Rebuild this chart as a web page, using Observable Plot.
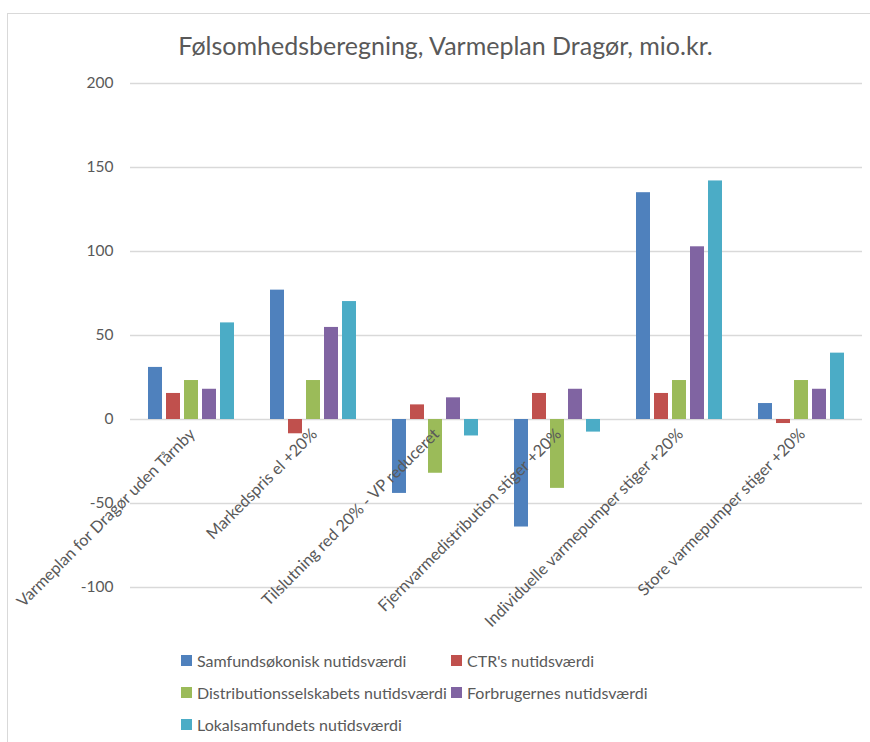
<!DOCTYPE html>
<html><head><meta charset="utf-8">
<script src="https://cdn.jsdelivr.net/npm/d3@7"></script>
<script src="https://cdn.jsdelivr.net/npm/@observablehq/plot@0.6"></script>
<style>
body{margin:0;background:#fff;font-family:Lato, "Open Sans", sans-serif;}
#wrap{position:relative;width:870px;height:742px;overflow:hidden;background:#fff;}
#frame{position:absolute;left:7px;top:13px;width:900px;height:800px;border:1px solid #d9d9d9;box-sizing:border-box;}
#title{position:absolute;top:30px;left:0;width:891px;text-align:center;font-size:25px;color:#595959;white-space:nowrap;}
#chart{position:absolute;left:0;top:0;}
#legend{position:absolute;left:181px;top:651px;display:grid;grid-template-columns:270px auto;grid-auto-rows:32px;font-size:16px;color:#595959;}
.item{display:flex;align-items:flex-start;white-space:nowrap;line-height:20px;}
.sw{width:11px;height:11px;margin:4px 5px 0 0;flex:none;}
</style></head>
<body>
<div id="wrap">
  <div id="frame"></div>
  <div id="chart"></div>
  <div id="title">Følsomhedsberegning, Varmeplan Dragør, mio.kr.</div>
  <div id="legend"></div>
</div>
<script>
const categories = [
  "Varmeplan for Dragør uden Tårnby",
  "Markedspris el +20%",
  "Tilslutning red 20% - VP reduceret",
  "Fjernvarmedistribution stiger +20%",
  "Individuelle varmepumper stiger +20%",
  "Store varmepumper stiger +20%"
];
const series = [
  "Samfundsøkonisk nutidsværdi",
  "CTR's nutidsværdi",
  "Distributionsselskabets nutidsværdi",
  "Forbrugernes nutidsværdi",
  "Lokalsamfundets nutidsværdi"
];
const samfund = [31, 77, -44, -64, 135, 9.5];
const ctr = [15.5, -8.5, 8.7, 15.5, 15.5, -2.4];
const distrib = [23.2, 23.2, -32, -41, 23.2, 23.2];
const forbrug = [18, 54.8, 12.9, 18, 102.8, 18];
const lokal = [57.5, 70.2, -9.8, -7.5, 142, 39.5];
const yTicks = [-100, -50, 0, 50, 100, 150, 200];
const colors = ["#4F81BD", "#C0504D", "#9BBB59", "#8064A2", "#4BACC6"];

const valueLists = [samfund, ctr, distrib, forbrug, lokal];
const data = [];
categories.forEach((c, i) => {
  series.forEach((s, j) => data.push({category: c, series: s, value: valueLists[j][i]}));
});

const chart = Plot.plot({
  width: 870,
  height: 742,
  marginTop: 83,
  marginBottom: 155,
  marginLeft: 130,
  marginRight: 8,
  style: {fontFamily: "Lato, 'Open Sans', sans-serif", fontSize: "15px", color: "#595959", background: "transparent"},
  fx: {domain: categories, padding: 0, axis: null},
  x: {domain: series, paddingInner: 0.22, paddingOuter: 0.94, axis: null},
  y: {domain: [-100, 200], ticks: yTicks, tickSize: 0, tickPadding: 17, label: null},
  color: {domain: series, range: colors},
  marks: [
    Plot.ruleY(yTicks, {stroke: "#d9d9d9", strokeWidth: 1.3}),
    Plot.barY(data, {fx: "category", x: "series", y: "value", fill: "series"}),
    Plot.text(categories, {fx: d => d, y: 0, text: d => d, rotate: -45, textAnchor: "end", dx: 1, dy: 12, fill: "#595959", fontSize: 16.2}),
    Plot.axisY({ticks: yTicks, tickSize: 0, tickPadding: 17, fontSize: 15.5, tickFormat: d => String(d), facetAnchor: "left"})
  ]
});
document.getElementById("chart").appendChild(chart);

const legend = document.getElementById("legend");
series.forEach((s, j) => {
  const it = document.createElement("div");
  it.className = "item";
  it.innerHTML = `<span class="sw" style="background:${colors[j]}"></span><span>${s}</span>`;
  legend.appendChild(it);
});
</script>
</body></html>
